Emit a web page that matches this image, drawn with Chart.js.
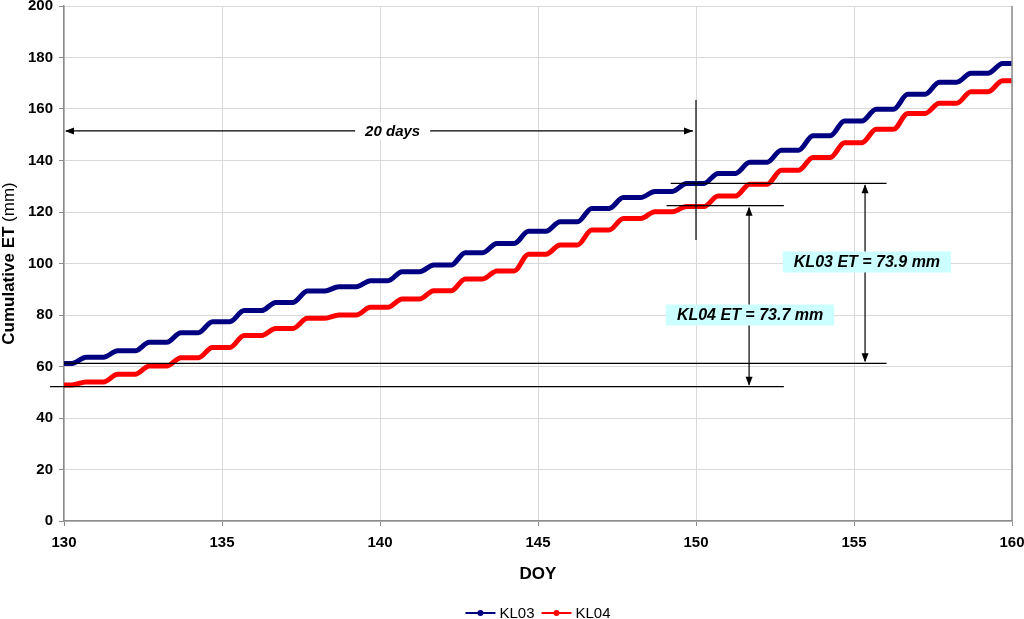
<!DOCTYPE html>
<html>
<head>
<meta charset="utf-8">
<script src="https://cdn.jsdelivr.net/npm/chart.js@4/dist/chart.umd.min.js"></script>
<style>
  html, body { margin: 0; padding: 0; background: #fff; }
  #wrap { width: 1024px; height: 619px; }
</style>
</head>
<body>
<div id="wrap"><canvas id="chart" width="1024" height="619"></canvas></div>
<script>
// Night-time plateau of cumulative ET (mm) at the start of each DOY
var DAYS = [130, 131, 132, 133, 134, 135, 136, 137, 138, 139, 140,
            141, 142, 143, 144, 145, 146, 147, 148, 149, 150,
            151, 152, 153, 154, 155, 156, 157, 158, 159, 160];
var KL03 = [61.2, 63.6, 66.1, 69.4, 73.1, 77.4, 81.7, 84.9, 89.3, 91.0, 93.3,
            96.8, 99.4, 104.2, 107.8, 112.5, 116.2, 121.4, 125.6, 128.0, 131.1,
            135.0, 139.3, 144.0, 149.6, 155.3, 159.9, 165.7, 170.4, 173.9, 177.7];
var KL04 = [52.8, 54.0, 57.0, 60.2, 63.4, 67.4, 72.0, 74.8, 78.7, 80.0, 83.0,
            86.2, 89.4, 94.0, 97.1, 103.6, 107.2, 113.0, 117.5, 120.1, 122.1,
            126.2, 130.8, 136.2, 141.2, 146.9, 152.1, 158.3, 162.2, 166.7, 171.0];
// fraction of the day where ET starts / stops climbing
var RISE_START = 0.25;
var RISE_END = 0.7;

var X_TICKS = [130, 135, 140, 145, 150, 155, 160];
var Y_TICKS = [0, 20, 40, 60, 80, 100, 120, 140, 160, 180, 200];

var SERIES_NAMES = ['KL03', 'KL04'];
var SERIES_COLORS = ['#000080', '#ff0000'];

var FONT = "'Liberation Sans', Arial, sans-serif";
Chart.defaults.font.family = FONT;
Chart.defaults.color = '#000';

function dailySteps(values) {
  var pts = [{ x: DAYS[0], y: values[0] }];
  for (var i = 0; i < DAYS.length - 1; i++) {
    pts.push({ x: DAYS[i] + RISE_START, y: values[i] });
    pts.push({ x: DAYS[i] + RISE_END, y: values[i + 1] });
  }
  pts.push({ x: DAYS[DAYS.length - 1], y: values[values.length - 1] });
  return pts;
}

function arrowHead(ctx, tx, ty, dx, dy) {
  var len = 9, half = 3.5;
  ctx.beginPath();
  ctx.moveTo(tx, ty);
  ctx.lineTo(tx - dx * len - dy * half, ty - dy * len + dx * half);
  ctx.lineTo(tx - dx * len + dy * half, ty - dy * len - dx * half);
  ctx.closePath();
  ctx.fill();
}

function segment(ctx, x1, y1, x2, y2) {
  ctx.beginPath();
  ctx.moveTo(x1, y1);
  ctx.lineTo(x2, y2);
  ctx.stroke();
}

function boxLabel(ctx, text, cx, cy) {
  ctx.font = 'italic bold 16px ' + FONT;
  var w = ctx.measureText(text).width + 22;
  var h = 21;
  ctx.fillStyle = '#ccffff';
  ctx.fillRect(cx - w / 2, cy - h / 2, w, h);
  ctx.fillStyle = '#000';
  ctx.textAlign = 'center';
  ctx.textBaseline = 'middle';
  ctx.fillText(text, cx, cy + 1);
}

var annotations = {
  id: 'annotations',
  afterDatasetsDraw: function (chart) {
    var ctx = chart.ctx;
    var sx = chart.scales.x, sy = chart.scales.y;
    function px(v) { return sx.getPixelForValue(v); }
    function py(v) { return sy.getPixelForValue(v); }

    ctx.save();
    ctx.strokeStyle = '#000';
    ctx.fillStyle = '#000';
    ctx.lineWidth = 1.2;

    // start / end levels
    segment(ctx, px(149.2), py(131.15), px(156.03), py(131.15));
    segment(ctx, px(149.07), py(122.45), px(152.78), py(122.45));
    segment(ctx, px(130), py(61.24), px(156.03), py(61.24));
    segment(ctx, px(129.56), py(52.16), px(152.78), py(52.16));

    // DOY 150 marker
    segment(ctx, px(150), py(163.5), px(150), py(109.1));

    // 20 days span
    var ay = py(151.5);
    segment(ctx, px(130) + 2, ay, px(150) - 3, ay);
    arrowHead(ctx, px(130) + 1, ay, -1, 0);
    arrowHead(ctx, px(150) - 3, ay, 1, 0);
    ctx.font = 'italic bold 15px ' + FONT;
    var tx = px(140.4);
    var tw = ctx.measureText('20 days').width;
    ctx.fillStyle = '#fff';
    ctx.fillRect(tx - tw / 2 - 10, ay - 9, tw + 20, 18);
    ctx.fillStyle = '#000';
    ctx.textAlign = 'center';
    ctx.textBaseline = 'middle';
    ctx.fillText('20 days', tx, ay + 1);

    // vertical difference arrows
    var x3 = px(155.35), x4 = px(151.68);
    segment(ctx, x3, py(131.15) + 2, x3, py(61.24) - 2);
    arrowHead(ctx, x3, py(131.15) + 1, 0, -1);
    arrowHead(ctx, x3, py(61.24) - 1, 0, 1);
    segment(ctx, x4, py(122.45) + 2, x4, py(52.16) - 2);
    arrowHead(ctx, x4, py(122.45) + 1, 0, -1);
    arrowHead(ctx, x4, py(52.16) - 1, 0, 1);

    boxLabel(ctx, 'KL03 ET = 73.9 mm', px(155.41), py(100.6));
    boxLabel(ctx, 'KL04 ET = 73.7 mm', px(151.71), py(80.0));
    ctx.restore();
  },
  afterDraw: function (chart) {
    var ctx = chart.ctx;
    var area = chart.chartArea;
    ctx.save();
    // right border of the plot area
    ctx.strokeStyle = '#8c8c8c';
    ctx.lineWidth = 1.5;
    segment(ctx, area.right, area.top, area.right, area.bottom);

    // legend: line + dot icon, centred under the plot area
    ctx.font = '15px ' + FONT;
    ctx.textBaseline = 'middle';
    ctx.textAlign = 'left';
    var iconW = 30, gap = 4, between = 7;
    var widths = SERIES_NAMES.map(function (n) { return ctx.measureText(n).width; });
    var total = 0;
    widths.forEach(function (w, i) { total += iconW + gap + w + (i ? between : 0); });
    var lx = (area.left + area.right) / 2 - total / 2;
    var ly = 613;
    SERIES_NAMES.forEach(function (name, i) {
      ctx.strokeStyle = SERIES_COLORS[i];
      ctx.fillStyle = SERIES_COLORS[i];
      ctx.lineWidth = 2;
      segment(ctx, lx, ly, lx + iconW, ly);
      ctx.beginPath();
      ctx.arc(lx + iconW / 2, ly, 3, 0, Math.PI * 2);
      ctx.fill();
      ctx.fillStyle = '#000';
      ctx.fillText(name, lx + iconW + gap, ly + 1);
      lx += iconW + gap + widths[i] + between;
    });

    // y title: bold part + normal unit
    var cy = (area.top + area.bottom) / 2;
    ctx.translate(9, cy);
    ctx.rotate(-Math.PI / 2);
    var bold = 'bold 17px ' + FONT, normal = '17px ' + FONT;
    ctx.font = bold;
    var w1 = ctx.measureText('Cumulative ET ').width;
    ctx.font = normal;
    var w2 = ctx.measureText('(mm)').width;
    var start = -(w1 + w2) / 2;
    ctx.fillStyle = '#000';
    ctx.textBaseline = 'middle';
    ctx.textAlign = 'left';
    ctx.font = bold;
    ctx.fillText('Cumulative ET ', start, 0);
    ctx.font = normal;
    ctx.fillText('(mm)', start + w1, 0);
    ctx.restore();
  }
};

var datasets = [KL03, KL04].map(function (vals, i) {
  return {
    label: SERIES_NAMES[i],
    data: dailySteps(vals),
    borderColor: SERIES_COLORS[i],
    backgroundColor: SERIES_COLORS[i],
    borderWidth: 5,
    borderCapStyle: 'round',
    borderJoinStyle: 'round',
    pointRadius: 0,
    cubicInterpolationMode: 'monotone',
    fill: false
  };
});

new Chart(document.getElementById('chart'), {
  type: 'line',
  data: { datasets: datasets },
  plugins: [annotations],
  options: {
    responsive: false,
    animation: false,
    layout: { padding: { left: 0, right: 12, top: 6, bottom: 30 } },
    plugins: {
      tooltip: { enabled: false },
      legend: { display: false }
    },
    scales: {
      x: {
        type: 'linear',
        min: 130,
        max: 160,
        afterBuildTicks: function (scale) {
          scale.ticks = X_TICKS.map(function (v) { return { value: v }; });
        },
        afterFit: function (scale) {
          scale.height = 68;
          scale.paddingLeft = 0;
          scale.paddingRight = 0;
        },
        ticks: { font: { size: 15, weight: 'bold' }, padding: 8, maxRotation: 0 },
        grid: { color: '#d9d9d9', lineWidth: 1, tickLength: 5, tickColor: '#8c8c8c' },
        border: { color: '#8c8c8c', width: 1.5 },
        title: { display: true, text: 'DOY', font: { size: 17, weight: 'bold' }, padding: { top: 4, bottom: 4 } }
      },
      y: {
        min: 0,
        max: 200,
        afterBuildTicks: function (scale) {
          scale.ticks = Y_TICKS.map(function (v) { return { value: v }; });
        },
        afterFit: function (scale) {
          scale.width = 64;
          scale.paddingTop = 0;
          scale.paddingBottom = 0;
        },
        ticks: { font: { size: 15, weight: 'bold' }, padding: 6 },
        grid: { color: '#d9d9d9', lineWidth: 1, tickLength: 5, tickColor: '#8c8c8c' },
        border: { color: '#8c8c8c', width: 1.5 }
      }
    }
  }
});
</script>
</body>
</html>
